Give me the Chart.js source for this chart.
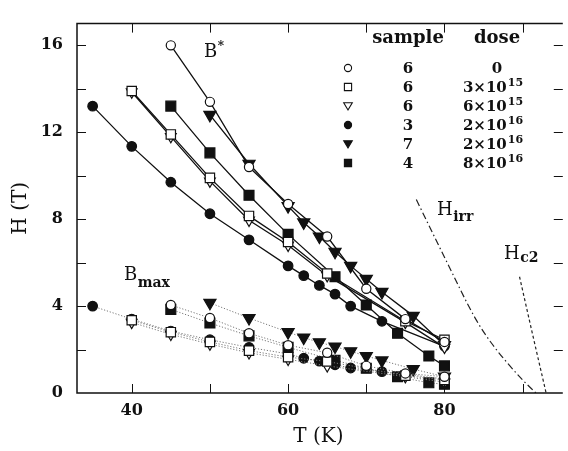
<!DOCTYPE html>
<html>
<head>
<meta charset="utf-8">
<script src="https://cdn.jsdelivr.net/npm/chart.js@4/dist/chart.umd.min.js"></script>
<style>
html, body { margin: 0; padding: 0; overflow: hidden; background: #fff; }
canvas { display: block; }
</style>
</head>
<body>
<canvas id="hchart" width="568" height="451"></canvas>
<script>
// tick positions
const T_TICKS = [40, 50, 60, 70, 80, 90];
const H_TICKS = [2, 4, 6, 8, 10, 12, 14, 16];

// B* (solid lines), one pair of arrays per sample
const T_o6 = [45, 50, 55, 60, 65, 70, 75, 80];
const B_o6 = [16.0, 13.4, 10.4, 8.7, 7.2, 4.8, 3.4, 2.35];
const T_sq6 = [40, 45, 50, 55, 60, 65, 75, 80];
const B_sq6 = [13.9, 11.9, 9.9, 8.15, 6.95, 5.5, 3.3, 2.45];
const T_tr6 = [40, 45, 50, 55, 60, 65, 75, 80];
const B_tr6 = [13.85, 11.8, 9.75, 7.95, 6.8, 5.4, 3.25, 2.1];
const T_fc3 = [35, 40, 45, 50, 55, 60, 62, 64, 66, 68, 72, 80];
const B_fc3 = [13.2, 11.35, 9.7, 8.25, 7.05, 5.85, 5.4, 4.95, 4.55, 4.0, 3.3, 2.15];
const T_ft7 = [50, 55, 60, 62, 64, 66, 68, 70, 72, 76, 80];
const B_ft7 = [12.8, 10.55, 8.6, 7.85, 7.2, 6.5, 5.85, 5.25, 4.65, 3.55, 2.2];
const T_fs4 = [45, 50, 55, 60, 66, 70, 74, 78, 80];
const B_fs4 = [13.2, 11.05, 9.1, 7.3, 5.35, 4.05, 2.75, 1.7, 1.25];

// Bmax (dotted lines)
const Tm_o6 = [45, 50, 55, 60, 65, 70, 75, 80];
const M_o6 = [4.05, 3.45, 2.75, 2.2, 1.85, 1.25, 0.9, 0.75];
const Tm_sq6 = [40, 45, 50, 55, 60, 65, 75, 80];
const M_sq6 = [3.35, 2.8, 2.35, 1.95, 1.65, 1.45, 0.8, 0.6];
const Tm_tr6 = [40, 45, 50, 55, 60, 65, 75, 80];
const M_tr6 = [3.25, 2.7, 2.25, 1.85, 1.55, 1.25, 0.75, 0.5];
const Tm_fc3 = [35, 40, 45, 50, 55, 60, 62, 64, 66, 68, 72, 80];
const M_fc3 = [4.0, 3.4, 2.85, 2.45, 2.1, 1.8, 1.6, 1.47, 1.3, 1.15, 0.98, 0.65];
const Tm_ft7 = [50, 55, 60, 62, 64, 66, 68, 70, 72, 76, 80];
const M_ft7 = [4.15, 3.45, 2.8, 2.55, 2.33, 2.14, 1.92, 1.7, 1.5, 1.1, 0.75];
const Tm_fs4 = [45, 50, 55, 60, 66, 70, 74, 78, 80];
const M_fs4 = [3.85, 3.22, 2.63, 2.1, 1.5, 1.14, 0.75, 0.47, 0.4];

// H_irr and H_c2 curves
const T_irr = [76.4, 80, 84, 86, 88, 90, 91.7];
const H_irr = [8.9, 6.25, 3.4, 2.3, 1.4, 0.6, 0];
const T_c2 = [89.6, 91.3, 93.0];
const H_c2 = [5.35, 2.65, 0];

// legend rows
const SAMPLES = ['6', '6', '6', '3', '7', '4'];
const DOSE_BASE = ['0', '3×10', '6×10', '2×10', '2×10', '8×10'];
const DOSE_EXP = ['', '15', '15', '16', '16', '16'];

const SERIF = '"DejaVu Serif", "Liberation Serif", serif';
const INK = '#111';

function pts(xs, ys) {
    return xs.map((v, i) => ({ x: v, y: ys[i] }));
}

// marker styles: [pointStyle, radius, rotation, filled]
const MARK = {
    o6: ['circle', 4.6, 0, false],
    sq6: ['rect', 6.6, 0, false],
    tr6: ['triangle', 6.2, 180, false],
    fc3: ['circle', 4.8, 0, true],
    ft7: ['triangle', 7, 180, true],
    fs4: ['rect', 7, 0, true]
};

function series(xs, ys, key, dotted) {
    const m = MARK[key];
    return {
        data: pts(xs, ys),
        showLine: true,
        borderColor: dotted ? '#777' : INK,
        borderWidth: dotted ? 1 : 1.3,
        borderDash: dotted ? [1.2, 1.8] : [],
        pointStyle: m[0],
        pointRadius: m[1],
        pointRotation: m[2],
        pointBackgroundColor: m[3] ? INK : '#fff',
        pointBorderColor: INK,
        pointBorderWidth: 1.2
    };
}

function curve(xs, ys, dash) {
    return {
        data: pts(xs, ys),
        showLine: true,
        borderColor: '#222',
        borderWidth: 1.2,
        borderDash: dash,
        pointRadius: 0,
        cubicInterpolationMode: 'monotone'
    };
}

function symbol(ctx, key, x, y) {
    const m = MARK[key];
    ctx.beginPath();
    if (m[0] == 'circle') {
        ctx.arc(x, y, 3.6, 0, Math.PI * 2);
    } else if (m[0] == 'rect') {
        ctx.rect(x - 3.6, y - 3.6, 7.2, 7.2);
    } else {
        ctx.moveTo(x - 4.3, y - 3.3);
        ctx.lineTo(x + 4.3, y - 3.3);
        ctx.lineTo(x, y + 4);
        ctx.closePath();
    }
    ctx.fillStyle = m[3] ? INK : '#fff';
    ctx.fill();
    ctx.lineWidth = 1.1;
    ctx.strokeStyle = INK;
    ctx.stroke();
}

function subText(ctx, base, sub, x, y, size, subSize, dy) {
    ctx.font = size + 'px ' + SERIF;
    ctx.fillText(base, x, y);
    const w = ctx.measureText(base).width;
    ctx.font = 'bold ' + subSize + 'px ' + SERIF;
    ctx.fillText(sub, x + w + 0.5, y + dy);
}

const decor = {
    id: 'decor',
    afterDraw(chart) {
        const { ctx, chartArea: a, scales: { x, y } } = chart;
        const rightEdge = a.right + 3; // frame sits just past the canvas edge
        ctx.save();
        ctx.strokeStyle = INK;

        // frame (left, top, bottom; right side falls off the picture)
        ctx.lineWidth = 1.5;
        ctx.beginPath();
        ctx.moveTo(rightEdge, a.top);
        ctx.lineTo(a.left, a.top);
        ctx.lineTo(a.left, a.bottom);
        ctx.lineTo(rightEdge, a.bottom);
        ctx.stroke();

        // inward ticks on all four sides
        ctx.lineWidth = 1;
        ctx.beginPath();
        T_TICKS.forEach(v => {
            const px = Math.round(x.getPixelForValue(v)) + 0.5;
            ctx.moveTo(px, a.bottom); ctx.lineTo(px, a.bottom - 9);
            ctx.moveTo(px, a.top); ctx.lineTo(px, a.top + 9);
        });
        H_TICKS.forEach(v => {
            const py = Math.round(y.getPixelForValue(v)) + 0.5;
            ctx.moveTo(a.left, py); ctx.lineTo(a.left + 9, py);
            ctx.moveTo(rightEdge, py); ctx.lineTo(rightEdge - 9, py);
        });
        ctx.stroke();

        // curve and series labels
        ctx.fillStyle = INK;
        ctx.textBaseline = 'alphabetic';
        ctx.textAlign = 'left';
        subText(ctx, 'B', '*', 204, 57, 18, 12, -7);
        subText(ctx, 'B', 'max', 124, 280, 18, 14, 7);
        subText(ctx, 'H', 'irr', 437, 215, 18, 14, 6);
        subText(ctx, 'H', 'c2', 504, 259, 18, 14, 3);

        // legend table
        ctx.textAlign = 'center';
        ctx.font = 'bold 18px ' + SERIF;
        ctx.fillText('sample', 408, 43);
        ctx.fillText('dose', 497, 43);
        const keys = ['o6', 'sq6', 'tr6', 'fc3', 'ft7', 'fs4'];
        for (let i = 0; i < keys.length; i++) {
            const by = 73 + 19 * i;
            symbol(ctx, keys[i], 348, by - 5);
            ctx.fillStyle = INK;
            ctx.textAlign = 'center';
            ctx.font = 'bold 15px ' + SERIF;
            ctx.fillText(SAMPLES[i], 408, by);
            if (DOSE_EXP[i] == '') {
                ctx.fillText(DOSE_BASE[i], 497, by);
            } else {
                ctx.textAlign = 'left';
                ctx.font = 'bold 15px ' + SERIF;
                const w1 = ctx.measureText(DOSE_BASE[i]).width;
                ctx.font = 'bold 11px ' + SERIF;
                const w2 = ctx.measureText(DOSE_EXP[i]).width;
                const x0 = 493 - (w1 + w2 + 1) / 2;
                ctx.font = 'bold 15px ' + SERIF;
                ctx.fillText(DOSE_BASE[i], x0, by);
                ctx.font = 'bold 11px ' + SERIF;
                ctx.fillText(DOSE_EXP[i], x0 + w1 + 1, by - 6);
            }
        }
        ctx.restore();
    }
};

new Chart(document.getElementById('hchart'), {
    type: 'scatter',
    data: {
        datasets: [
            series(T_o6, B_o6, 'o6', false),
            series(T_sq6, B_sq6, 'sq6', false),
            series(T_tr6, B_tr6, 'tr6', false),
            series(T_fc3, B_fc3, 'fc3', false),
            series(T_ft7, B_ft7, 'ft7', false),
            series(T_fs4, B_fs4, 'fs4', false),
            series(Tm_o6, M_o6, 'o6', true),
            series(Tm_sq6, M_sq6, 'sq6', true),
            series(Tm_tr6, M_tr6, 'tr6', true),
            series(Tm_fc3, M_fc3, 'fc3', true),
            series(Tm_ft7, M_ft7, 'ft7', true),
            series(Tm_fs4, M_fs4, 'fs4', true),
            curve(T_irr, H_irr, [7, 3, 1.5, 3]),
            curve(T_c2, H_c2, [3, 2.5])
        ]
    },
    options: {
        responsive: false,
        animation: false,
        layout: { padding: { top: 10, right: 0, left: 0, bottom: 0 } },
        plugins: { legend: { display: false }, tooltip: { enabled: false } },
        scales: {
            x: {
                type: 'linear',
                min: 33,
                max: 94.75,
                afterFit: s => { s.height = 58; },
                grid: { display: false, drawTicks: false },
                border: { display: false },
                ticks: {
                    stepSize: 10,
                    autoSkip: false,
                    maxRotation: 0,
                    includeBounds: false,
                    padding: 8,
                    color: INK,
                    font: { family: SERIF, size: 16, weight: 'bold' },
                    callback: v => (v % 20 === 0 ? v : '')
                },
                title: {
                    display: true,
                    text: 'T (K)',
                    color: INK,
                    font: { family: SERIF, size: 20 },
                    padding: { top: 0, bottom: 2 }
                }
            },
            y: {
                type: 'linear',
                min: 0,
                max: 17,
                afterFit: s => { s.width = 77; },
                grid: { display: false, drawTicks: false },
                border: { display: false },
                ticks: {
                    stepSize: 2,
                    autoSkip: false,
                    includeBounds: false,
                    padding: 14,
                    color: INK,
                    font: { family: SERIF, size: 16, weight: 'bold' },
                    callback: v => (v % 4 === 0 ? v : '')
                },
                title: {
                    display: true,
                    text: 'H (T)',
                    color: INK,
                    font: { family: SERIF, size: 20 },
                    padding: { top: 9, bottom: 0 }
                }
            }
        }
    },
    plugins: [decor]
});
</script>
</body>
</html>
